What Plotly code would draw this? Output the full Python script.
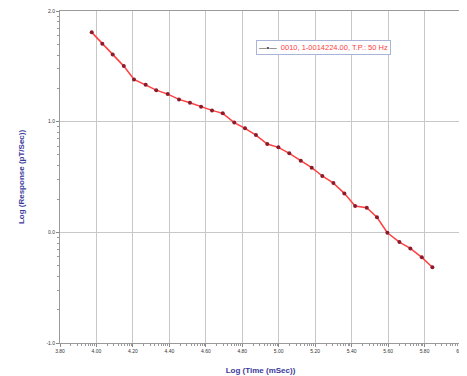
import plotly.graph_objects as go
import math

# Data (log time in ms, log response in pT/s)
log_time = [3.974, 4.032, 4.089, 4.150, 4.206, 4.270, 4.328, 4.391, 4.453, 4.513,
            4.574, 4.634, 4.693, 4.756, 4.815, 4.875, 4.937, 4.998, 5.058, 5.121,
            5.181, 5.239, 5.300, 5.360, 5.419, 5.483, 5.539, 5.596, 5.662, 5.722,
            5.785, 5.843]
log_response = [1.807, 1.704, 1.608, 1.502, 1.382, 1.333, 1.285, 1.249, 1.201, 1.171,
                1.135, 1.102, 1.075, 0.992, 0.940, 0.879, 0.798, 0.768, 0.714, 0.647,
                0.584, 0.509, 0.445, 0.352, 0.238, 0.222, 0.136, -0.004, -0.088, -0.145,
                -0.226, -0.316]
series_name = "0010, 1-0014224.00, T.P.: 50 Hz"

x_ticks = [3.8 + 0.2 * i for i in range(12)]
x_labels = ["%.2f" % v for v in x_ticks]
y_ticks = [-1.0, 0.0, 1.0, 2.0]
y_labels = ["-1.0", "0.0", "1.0", "2.0"]

# log-style minor tick positions within each major interval
x_minor = [x_ticks[i] + 0.2 * math.log10(m) for i in range(11) for m in range(2, 10)]
y_minor = [y_ticks[i] + math.log10(m) for i in range(3) for m in range(2, 10)]

FONT = "Arial, Liberation Sans, sans-serif"

fig = go.Figure()
fig.add_trace(go.Scatter(
    x=log_time, y=log_response, name=series_name, mode="lines+markers",
    line=dict(color="#ff4040", width=1.5),
    marker=dict(color="#8b1a2a", size=4, symbol="circle"),
    showlegend=False,
))

# legend box drawn as an annotation
fig.add_annotation(
    xref="paper", yref="paper", x=0.489, y=0.913, xanchor="left", yanchor="top",
    text="<span style='color:#333'>—•—</span>  " + series_name,
    showarrow=False, align="left",
    font=dict(family=FONT, size=7.5, color="#ff4040"),
    bordercolor="#aab4d8", borderwidth=1, borderpad=2, bgcolor="white",
)

axis_common = dict(
    showline=True, linecolor="#9a9a9a", linewidth=1, mirror=True,
    showgrid=True, gridcolor="#c8c8c8", gridwidth=1,
    zeroline=False, ticks="outside", ticklen=3, tickcolor="#888",
    automargin=False, ticklabeloverflow="allow",
    tickfont=dict(family=FONT, size=5, color="#333"),
)

fig.update_layout(
    width=459, height=368,
    margin=dict(l=52, r=6, t=3, b=33),
    paper_bgcolor="white", plot_bgcolor="white",
    showlegend=False,
    xaxis=dict(range=[3.8, 6.0], tickmode="array", tickvals=x_ticks, ticktext=x_labels,
               minor=dict(tickmode="array", tickvals=x_minor, ticks="outside",
                          ticklen=2, tickcolor="#999", showgrid=False),
               title=dict(text="<b>Log (Time (mSec))</b>", standoff=14,
                          font=dict(family=FONT, size=8, color="#3a3a9a")),
               **axis_common),
    yaxis=dict(range=[-1.0, 2.0], tickmode="array", tickvals=y_ticks, ticktext=y_labels,
               minor=dict(tickmode="array", tickvals=y_minor, ticks="outside",
                          ticklen=2, tickcolor="#999", showgrid=False),
               title=dict(text="<b>Log (Response (pT/Sec))</b>", standoff=20,
                          font=dict(family=FONT, size=8, color="#3a3a9a")),
               **axis_common),
)

fig.write_html("out.html")
